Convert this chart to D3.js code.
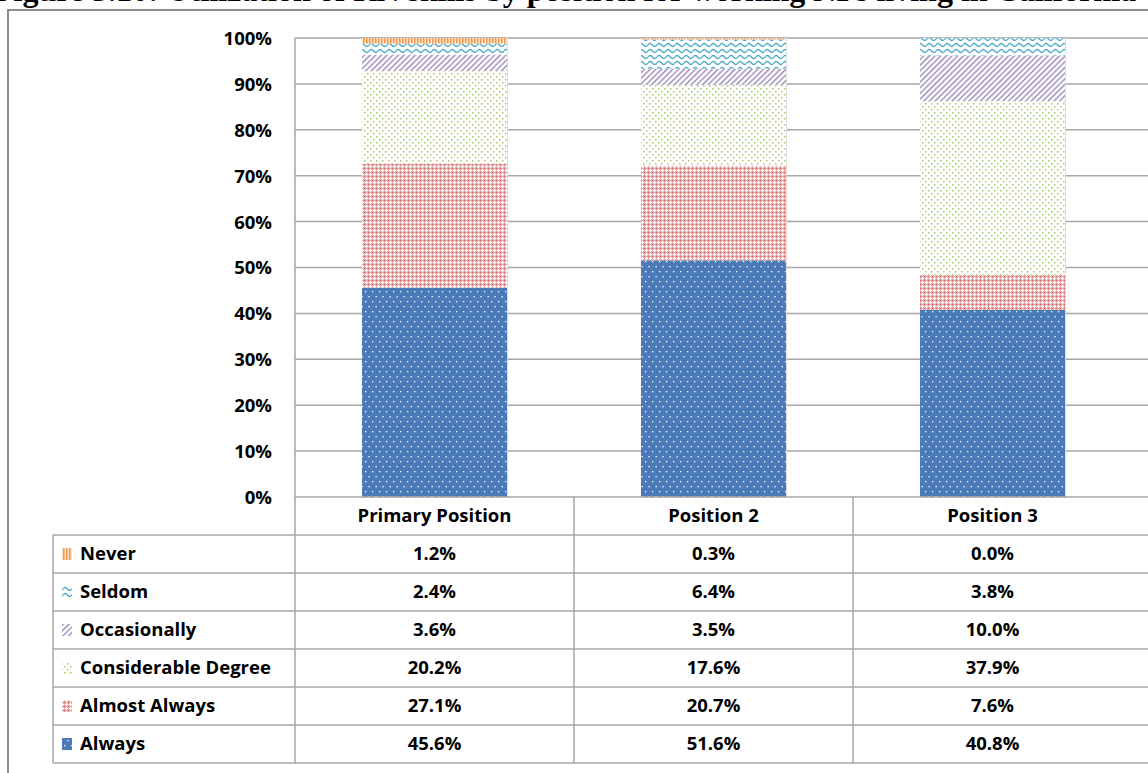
<!DOCTYPE html>
<html>
<head>
<meta charset="utf-8">
<script src="https://cdn.jsdelivr.net/npm/d3@7"></script>
<style>
  body { margin: 0; background: #fff; }
  svg { display: block; }
  .lbl { font-family: "Open Sans", Lato, sans-serif; font-weight: 700; fill: #000; }
</style>
</head>
<body>
<svg id="chart" width="1148" height="773"></svg>
<script>
const title = "Figure 5.10: Utilization of RN skills by position for working NPs living in California";
const categories = ["Primary Position", "Position 2", "Position 3"];
// stacking order, bottom to top
const seriesNames = ["Always", "Almost Always", "Considerable Degree", "Occasionally", "Seldom", "Never"];
const always = [45.6, 51.6, 40.8];
const almostAlways = [27.1, 20.7, 7.6];
const considerable = [20.2, 17.6, 37.9];
const occasionally = [3.6, 3.5, 10.0];
const seldom = [2.4, 6.4, 3.8];
const never = [1.2, 0.3, 0.0];
const yTicks = [0, 0.1, 0.2, 0.3, 0.4, 0.5, 0.6, 0.7, 0.8, 0.9, 1];

const seriesValues = {
  "Always": always,
  "Almost Always": almostAlways,
  "Considerable Degree": considerable,
  "Occasionally": occasionally,
  "Seldom": seldom,
  "Never": never
};
const patternId = {
  "Always": "p-always",
  "Almost Always": "p-almost",
  "Considerable Degree": "p-consid",
  "Occasionally": "p-occas",
  "Seldom": "p-seldom",
  "Never": "p-never"
};

const svg = d3.select("#chart");
const plot = {left: 295, right: 1132, top: 38, bottom: 497};
const tableRight = 1150;
const gridColor = "#a6a6a6";
const fontSize = "18.5px";

// ---- patterns
const defs = svg.append("defs");
function pat(id, w, h) {
  return defs.append("pattern").attr("id", id)
    .attr("patternUnits", "userSpaceOnUse").attr("width", w).attr("height", h);
}
let p = pat("p-always", 7, 10);
p.append("rect").attr("width", 7).attr("height", 10).attr("fill", "#4a7ab8");
p.append("rect").attr("x", 1).attr("y", 1).attr("width", 1.3).attr("height", 1.3).attr("fill", "#fff");
p.append("rect").attr("x", 4.5).attr("y", 6).attr("width", 1.3).attr("height", 1.3).attr("fill", "#fff");

p = pat("p-almost", 4, 4);
p.append("rect").attr("width", 4).attr("height", 4).attr("fill", "#eaa6a6");
p.append("rect").attr("x", 0).attr("y", 0).attr("width", 1).attr("height", 1).attr("fill", "#d86262");
p.append("rect").attr("x", 2).attr("y", 1).attr("width", 1).attr("height", 3).attr("fill", "#fff");
p.append("rect").attr("x", 1).attr("y", 2).attr("width", 3).attr("height", 1).attr("fill", "#fff");

p = pat("p-consid", 6, 6);
p.append("rect").attr("width", 6).attr("height", 6).attr("fill", "#fff");
p.append("rect").attr("x", 1).attr("y", 1).attr("width", 1.5).attr("height", 1.5).attr("fill", "#a9c76e");
p.append("rect").attr("x", 4).attr("y", 4).attr("width", 1.5).attr("height", 1.5).attr("fill", "#a9c76e");

p = pat("p-occas", 4, 10).attr("patternTransform", "rotate(45)");
p.append("rect").attr("width", 4).attr("height", 10).attr("fill", "#fff");
p.append("rect").attr("x", 0).attr("width", 1.3).attr("height", 10).attr("fill", "#9580b5");

p = pat("p-seldom", 9, 6);
p.append("rect").attr("width", 9).attr("height", 6).attr("fill", "#fff");
p.append("path").attr("d", "M0,3 C1.5,1 3,1 4.5,3 S7.5,5 9,3")
  .attr("fill", "none").attr("stroke", "#4bacc6").attr("stroke-width", 1.3);

p = pat("p-never", 3, 3);
p.append("rect").attr("width", 3).attr("height", 3).attr("fill", "#fde3cc");
p.append("rect").attr("width", 1.5).attr("height", 3).attr("fill", "#f79646");

// ---- title (cut off at top, as in the source)
svg.append("text")
  .attr("x", -6).attr("y", 1)
  .style("font-family", "'Liberation Serif', 'Times New Roman', serif")
  .style("font-weight", 700).style("font-size", "32px")
  .text(title);

// ---- outer frame
svg.append("path").attr("d", "M8,773 V10 H1148")
  .attr("fill", "none").attr("stroke", "#8c8c8c").attr("stroke-width", 2);

// ---- scales
const x = d3.scaleBand().domain(categories)
  .range([plot.left, plot.right]).paddingInner(0.48).paddingOuter(0.24);
const y = d3.scaleLinear().domain([0, 1]).range([plot.bottom, plot.top]);

// gridlines
svg.append("g").selectAll("line").data(yTicks.filter(d => d > 0)).join("line")
  .attr("x1", plot.left).attr("x2", tableRight)
  .attr("y1", d => y(d)).attr("y2", d => y(d))
  .attr("stroke", gridColor).attr("stroke-width", 1.5);

// y axis labels
const yAxis = d3.axisLeft(y).tickValues(yTicks).tickFormat(d3.format(".0%")).tickSize(0).tickPadding(23);
const ya = svg.append("g").attr("transform", "translate(" + plot.left + ",0)").call(yAxis);
ya.select(".domain").remove();
ya.selectAll("text").attr("class", "lbl").style("font-size", fontSize).attr("dy", "0.35em");

// ---- stacked bars (100% stacked)
const rows = categories.map((c, i) => {
  const r = {category: c};
  const total = d3.sum(seriesNames, s => seriesValues[s][i]);
  seriesNames.forEach(s => { r[s] = seriesValues[s][i] / total; });
  return r;
});
const stack = d3.stack().keys(seriesNames)(rows);

const layers = svg.append("g").selectAll("g").data(stack).join("g")
  .attr("fill", d => "url(#" + patternId[d.key] + ")");
layers.selectAll("rect").data(d => d).join("rect")
  .attr("x", d => x(d.data.category))
  .attr("width", x.bandwidth())
  .attr("y", d => y(d[1]))
  .attr("height", d => y(d[0]) - y(d[1]));

// faint shadow on right edge of bars
svg.append("g").selectAll("line").data(categories).join("line")
  .attr("x1", d => x(d) + x.bandwidth() + 0.5).attr("x2", d => x(d) + x.bandwidth() + 0.5)
  .attr("y1", y(1)).attr("y2", y(0))
  .attr("stroke", "#dcdcdc").attr("stroke-width", 1);

// ---- data table
const headerTop = plot.bottom, headerBottom = 535, tableBottom = 763, legendLeft = 53;
const tableRows = seriesNames.slice().reverse();
const ry = d3.scaleBand().domain(tableRows).range([headerBottom, tableBottom]);
const cx = d3.scaleBand().domain(categories).range([plot.left, plot.right]);

const tbl = svg.append("g").attr("stroke", gridColor).attr("stroke-width", 1.5);
tbl.append("line").attr("x1", plot.left).attr("x2", tableRight).attr("y1", headerTop).attr("y2", headerTop);
tbl.selectAll(".hl").data(tableRows.map(r => ry(r)).concat([tableBottom])).join("line")
  .attr("class", "hl")
  .attr("x1", legendLeft).attr("x2", tableRight)
  .attr("y1", d => d).attr("y2", d => d);
tbl.append("line").attr("x1", legendLeft).attr("x2", legendLeft).attr("y1", headerBottom).attr("y2", tableBottom);
tbl.append("line").attr("x1", plot.left).attr("x2", plot.left).attr("y1", plot.top).attr("y2", tableBottom);
tbl.selectAll(".vl").data(categories.slice(1)).join("line")
  .attr("class", "vl")
  .attr("x1", d => cx(d)).attr("x2", d => cx(d))
  .attr("y1", headerTop).attr("y2", tableBottom);

// header labels
svg.append("g").selectAll("text").data(categories).join("text")
  .attr("class", "lbl").style("font-size", fontSize)
  .attr("x", d => cx(d) + cx.bandwidth() / 2)
  .attr("y", (headerTop + headerBottom) / 2).attr("dy", "0.35em")
  .attr("text-anchor", "middle")
  .text(d => d);

// legend rows
const lg = svg.append("g").selectAll("g").data(tableRows).join("g")
  .attr("transform", d => "translate(0," + (ry(d) + ry.bandwidth() / 2) + ")");
lg.append("rect").attr("x", 62).attr("y", -6).attr("width", 10).attr("height", 12)
  .attr("fill", d => "url(#" + patternId[d] + ")");
lg.append("text").attr("class", "lbl").style("font-size", fontSize)
  .attr("x", 80).attr("dy", "0.35em").text(d => d);

// values
const fmt = d3.format(".1f");
lg.selectAll(".val").data(d => categories.map((c, i) => ({c: c, v: seriesValues[d][i]}))).join("text")
  .attr("class", "lbl val").style("font-size", fontSize)
  .attr("x", d => cx(d.c) + cx.bandwidth() / 2)
  .attr("dy", "0.35em").attr("text-anchor", "middle")
  .text(d => fmt(d.v) + "%");
</script>
</body>
</html>
